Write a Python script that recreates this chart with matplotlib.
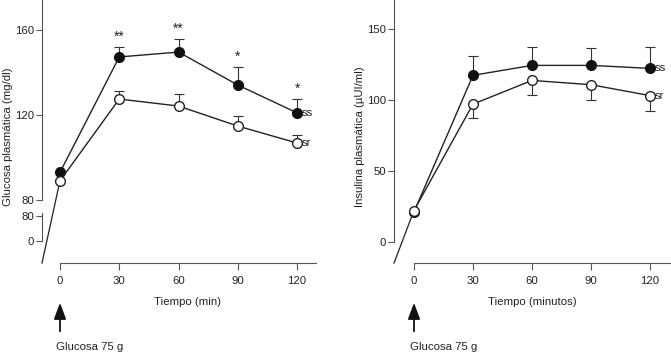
import matplotlib.pyplot as plt

plt.rcParams['font.family'] = ['Liberation Sans', 'DejaVu Sans']
plt.rcParams['font.size'] = 8.2
plt.rcParams['text.color'] = '#222222'

W, H = 671, 355

# --- datos ---
tiempo = [0, 30, 60, 90, 120]

glu_ss = [93, 147.3, 149.6, 134.1, 121]
glu_ss_err = [4.5, 6, 8.5, 6.5]          # 30..120, hacia arriba
glu_sr = [89, 127.5, 124.2, 114.8, 106.8]
glu_sr_err = [3.8, 5.8, 4.7, 3.8]
glu_stars = ['**', '**', '*', '*']

ins_ss = [21, 117.3, 124.3, 124.3, 122.2]
ins_ss_err = [13.7, 13, 12, 15]          # hacia arriba
ins_sr = [22, 97, 113.7, 110.7, 103]
ins_sr_err = [10, 10, 11, 10.5]          # hacia abajo


def fx(px):
    return px / W


def fy(py):
    return 1 - py / H


fig = plt.figure(figsize=(W / 100, H / 100), dpi=100)


def panel(left_px, right_px, xlim, ylim, ss, ss_err, sr, sr_err, sr_down):
    ax = fig.add_axes([fx(left_px), fy(263), (right_px - left_px) / W, 263 / H])
    ax.set_xlim(xlim)
    ax.set_ylim(ylim)
    ax.patch.set_alpha(0)
    for s in ['top', 'right']:
        ax.spines[s].set_visible(False)
    for s in ['left', 'bottom']:
        ax.spines[s].set_color('#555555')
        ax.spines[s].set_linewidth(0.8)
    ax.spines['bottom'].set_bounds(0, xlim[1])
    ax.tick_params(colors='#555555', labelcolor='#222222', width=0.8)
    ax.tick_params(axis='x', length=5, pad=4)
    ax.tick_params(axis='y', length=4, pad=1.5)
    ax.set_xticks(tiempo)

    # linea de extension antes del tiempo 0
    ax.plot([xlim[0], 0], [ylim[0], sr[0]], color='#222222', lw=0.9, clip_on=False)

    eb = dict(fmt='none', ecolor='#333333', elinewidth=0.8, capsize=3.5, capthick=0.8, zorder=2)
    ax.errorbar(tiempo[1:], ss[1:], yerr=[[0] * 4, ss_err], **eb)
    if sr_down:
        ax.errorbar(tiempo[1:], sr[1:], yerr=[sr_err, [0] * 4], **eb)
    else:
        ax.errorbar(tiempo[1:], sr[1:], yerr=[[0] * 4, sr_err], **eb)

    ax.plot(tiempo, ss, '-o', color='#222222', lw=1, ms=7, mfc='#111111', mec='#111111', zorder=3, clip_on=False)
    ax.plot(tiempo, sr, '-o', color='#222222', lw=1, ms=7, mfc='white', mec='#222222', mew=1, zorder=3, clip_on=False)

    ax.annotate('ss', (tiempo[-1], ss[-1]), xytext=(3.5, 0), textcoords='offset points',
                ha='left', va='center')
    ax.annotate('sr', (tiempo[-1], sr[-1]), xytext=(3.5, 0), textcoords='offset points',
                ha='left', va='center')

    # flecha glucosa
    ax.annotate('', xy=(0, fy(300)), xytext=(0, fy(334)), xycoords=('data', 'figure fraction'),
                textcoords=('data', 'figure fraction'),
                arrowprops=dict(arrowstyle='-|>,head_width=0.45,head_length=1.2', color='#111111', lw=1.3))
    return ax


# --- panel izquierdo: glucosa ---
ax1 = panel(42, 316, (-9.11, 129.6), (50.35, 174.1),
            glu_ss, glu_ss_err, glu_sr, glu_sr_err, False)
# eje y con corte
ax1.spines['left'].set_visible(False)
ax1.plot([0, 0], [80, 174.1], color='#555555', lw=0.8, transform=ax1.get_yaxis_transform(), clip_on=False)
ax1.plot([0, 0], [60.7, 73.9], color='#555555', lw=0.8, transform=ax1.get_yaxis_transform(), clip_on=False)
ax1.set_yticks([60.7, 72.5, 80, 120, 160])
ax1.set_yticklabels(['0', '80', '80', '120', '160'])
for t, v, e, s in zip(tiempo[1:], glu_ss[1:], glu_ss_err, glu_stars):
    ax1.annotate(s, (t, v + e), xytext=(0, 2.5), textcoords='offset points',
                 ha='center', va='bottom', fontsize=10)

fig.text(fx(188), fy(302), 'Tiempo (min)', ha='center', va='center')
fig.text(fx(8), fy(137), 'Glucosa plasmática (mg/dl)', rotation=90, ha='center', va='center')
fig.text(fx(56), fy(347), 'Glucosa 75 g', ha='left', va='center')

# --- panel derecho: insulina ---
ax2 = panel(394, 671, (-10.17, 130.7), (-15.0, 170.4),
            ins_ss, ins_ss_err, ins_sr, ins_sr_err, True)
ax2.spines['left'].set_bounds(0, 170.4)
ax2.set_yticks([0, 50, 100, 150])

fig.text(fx(532), fy(302), 'Tiempo (minutos)', ha='center', va='center')
fig.text(fx(360), fy(137), 'Insulina plasmática (µUI/ml)', rotation=90, ha='center', va='center')
fig.text(fx(410), fy(347), 'Glucosa 75 g', ha='left', va='center')

fig.savefig('out.png', dpi=100)
